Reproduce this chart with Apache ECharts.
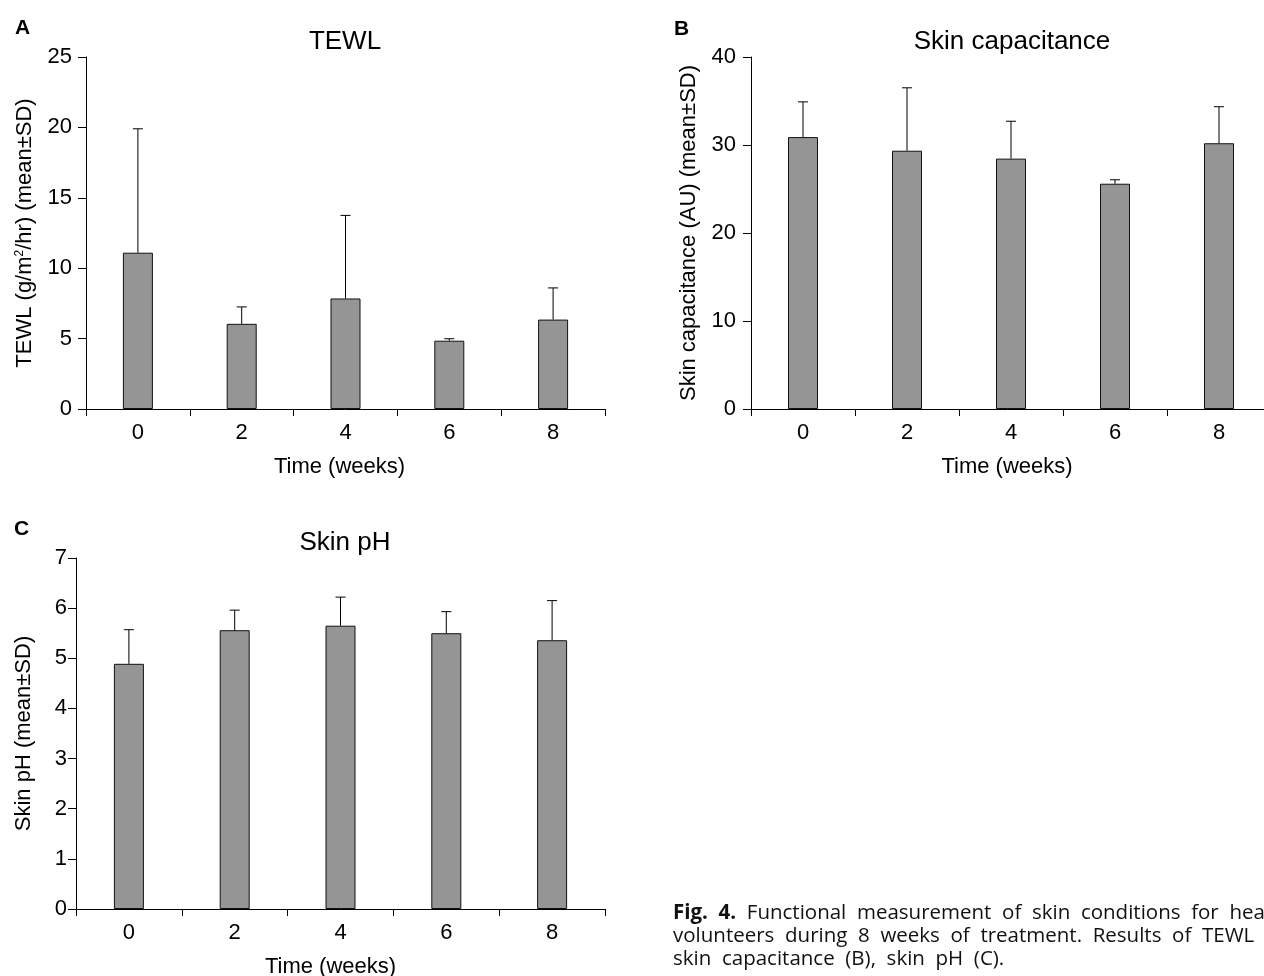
<!DOCTYPE html>
<html>
<head>
<meta charset="utf-8">
<title>Fig. 4</title>
<style>
  html, body { margin: 0; padding: 0; background: #fff; overflow: hidden; }
  #main { width: 1264px; height: 976px; }
</style>
<script src="https://cdn.jsdelivr.net/npm/echarts@6/dist/echarts.min.js"></script>
</head>
<body>
<div id="main"></div>
<script>
// x categories (weeks)
const weeks = ['0', '2', '4', '6', '8']

// A: TEWL
const tewlMean = [11.1, 6.05, 7.85, 4.85, 6.35]
const tewlSD = [8.8, 1.2, 5.9, 0.14, 2.25]

// B: skin capacitance
const capMean = [30.9, 29.35, 28.45, 25.6, 30.2]
const capSD = [4.0, 7.15, 4.25, 0.45, 4.15]

// C: skin pH
const phMean = [4.89, 5.56, 5.65, 5.5, 5.36]
const phSD = [0.68, 0.4, 0.57, 0.43, 0.79]

// y axis ranges [max, interval]
const tewlAxis = [25, 5]
const capAxis = [40, 10]
const phAxis = [7, 1]

const font = 'Liberation Sans'

function errorBarItem(params, api) {
  var x = api.value(0)
  var mean = api.value(1)
  var sd = api.value(2)
  var base = api.coord([x, mean])
  var top = api.coord([x, mean + sd])
  var half = 5
  var style = { stroke: '#000', lineWidth: 1 }
  return {
    type: 'group',
    children: [
      { type: 'line', shape: { x1: base[0], y1: base[1], x2: top[0], y2: top[1] }, style: style },
      { type: 'line', shape: { x1: top[0] - half, y1: top[1], x2: top[0] + half, y2: top[1] }, style: style }
    ]
  }
}

function xAxisOf(idx, namePad, nameGap) {
  return {
    type: 'category',
    gridIndex: idx,
    data: weeks,
    boundaryGap: true,
    name: 'Time (weeks)',
    nameLocation: 'middle',
    nameGap: nameGap,
    nameTextStyle: { fontSize: 22, color: '#000', fontFamily: font, padding: [0, namePad, 0, 0] },
    axisLine: { lineStyle: { color: '#000', width: 1 } },
    axisTick: { show: true, length: 7, alignWithLabel: false, lineStyle: { color: '#000' } },
    axisLabel: { fontSize: 22, color: '#000', fontFamily: font, margin: 13 },
    splitLine: { show: false }
  }
}

function yAxisOf(idx, range, name, nameGap, labelMargin) {
  return {
    type: 'value',
    gridIndex: idx,
    min: 0,
    max: range[0],
    interval: range[1],
    name: name,
    nameLocation: 'middle',
    nameGap: nameGap,
    nameTextStyle: {
      fontSize: 22, color: '#000', fontFamily: font,
      rich: { sup: { fontSize: 12, verticalAlign: 'top', fontFamily: font, color: '#000', padding: [0, 0, 8, 0] } }
    },
    axisLine: { show: true, lineStyle: { color: '#000', width: 1 } },
    axisTick: { show: true, length: 8, lineStyle: { color: '#000' } },
    axisLabel: { fontSize: 22, color: '#000', fontFamily: font, margin: labelMargin },
    splitLine: { show: false }
  }
}

function barSeries(idx, values) {
  return {
    type: 'bar',
    xAxisIndex: idx,
    yAxisIndex: idx,
    data: values,
    barWidth: 30,
    itemStyle: { color: '#959595', borderColor: '#111', borderWidth: 1 },
    silent: true
  }
}

function errSeries(idx, mean, sd) {
  return {
    type: 'custom',
    xAxisIndex: idx,
    yAxisIndex: idx,
    renderItem: errorBarItem,
    encode: { x: 0, y: 1 },
    data: mean.map((m, i) => [i, m, sd[i]]),
    z: 5,
    silent: true
  }
}

function titleOf(text, x, y) {
  return {
    text: text, left: x, top: y, textAlign: 'center', padding: 0,
    textStyle: { fontSize: 26, fontWeight: 'normal', color: '#000', fontFamily: font }
  }
}

function letterOf(text, x, y) {
  return {
    type: 'text', left: x, top: y,
    style: { text: text, fontFamily: font, fontSize: 21, fontWeight: 'bold', fill: '#000' }
  }
}

var chartDom = document.getElementById('main')
var myChart = echarts.init(chartDom)
var option

option = {
  backgroundColor: '#fff',
  animation: false,
  textStyle: { fontFamily: font, color: '#000' },
  title: [
    titleOf('TEWL', 345, 29),
    titleOf('Skin capacitance', 1012, 29),
    titleOf('Skin pH', 345, 530)
  ],
  // fixed plot boxes; B runs past the right edge like the source figure
  grid: [
    { left: 86, top: 57, width: 519, height: 352, outerBoundsMode: 'none' },
    { left: 751, top: 57, width: 520, height: 352, outerBoundsMode: 'none' },
    { left: 76, top: 558, width: 529, height: 351, outerBoundsMode: 'none' }
  ],
  xAxis: [xAxisOf(0, 12, 47), xAxisOf(1, 8, 47), xAxisOf(2, 20, 47)],
  yAxis: [
    yAxisOf(0, tewlAxis, 'TEWL (g/m{sup|2}/hr) (mean±SD)', 50, 14),
    yAxisOf(1, capAxis, 'Skin capacitance (AU) (mean±SD)', 51, 15),
    yAxisOf(2, phAxis, 'Skin pH (mean±SD)', 41, 9)
  ],
  series: [
    barSeries(0, tewlMean), errSeries(0, tewlMean, tewlSD),
    barSeries(1, capMean), errSeries(1, capMean, capSD),
    barSeries(2, phMean), errSeries(2, phMean, phSD)
  ],
  graphic: [
    letterOf('A', 15, 18),
    letterOf('B', 674, 19),
    letterOf('C', 14, 519),
    {
      // caption on its own layer so its font does not leak into the axes
      type: 'text',
      left: 673,
      top: 902,
      zlevel: 1,
      style: {
        text: '{b|Fig.  4.}  Functional  measurement  of  skin  conditions  for  healthy\n' +
          'volunteers  during  8  weeks  of  treatment.  Results  of  TEWL  (A),\n' +
          'skin  capacitance  (B),  skin  pH  (C).',
        fontFamily: 'Open Sans',
        fontSize: 20.5,
        lineHeight: 23,
        fill: '#111',
        rich: {
          b: { fontFamily: 'Open Sans', fontSize: 20.5, fontWeight: 'bold', fill: '#111', lineHeight: 23 }
        }
      }
    }
  ]
}

option && myChart.setOption(option)
</script>
</body>
</html>
